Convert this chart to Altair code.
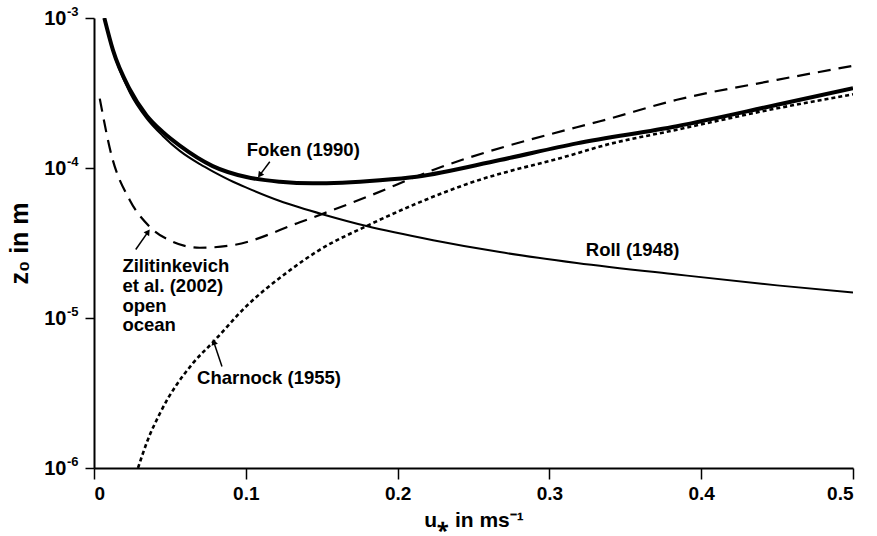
import altair as alt
import pandas as pd

# ---- data ----
foken_u = [0.0068, 0.0125, 0.0235, 0.0345, 0.0455, 0.0565, 0.0782, 0.1004, 0.1224, 0.1441,
           0.1883, 0.2125, 0.2674, 0.318, 0.384, 0.45, 0.5]
foken_z = [1.0e-3, 6.1e-4, 3.35e-4, 2.25e-4, 1.73e-4, 1.41e-4, 1.03e-4, 8.7e-5, 8.1e-5, 7.9e-5,
           8.3e-5, 8.75e-5, 1.13e-4, 1.46e-4, 1.9e-4, 2.64e-4, 3.4e-4]

roll_u = [0.0068, 0.0125, 0.0235, 0.0345, 0.0455, 0.0565, 0.0698, 0.0782, 0.0916, 0.1004, 0.122,
          0.1356, 0.151, 0.1795, 0.2234, 0.2674, 0.318, 0.384, 0.45, 0.5]
roll_z = [1.0e-3, 6.0e-4, 3.2e-4, 2.15e-4, 1.63e-4, 1.3e-4, 1.06e-4, 9.5e-5, 8.1e-5, 7.4e-5, 6.05e-5,
          5.45e-5, 4.9e-5, 4.1e-5, 3.3e-5, 2.75e-5, 2.33e-5, 1.95e-5, 1.65e-5, 1.48e-5]

zili_u = [0.0038, 0.0115, 0.0236, 0.0367, 0.052, 0.0697, 0.0916, 0.1356, 0.1795, 0.2234,
          0.318, 0.3333, 0.384, 0.45, 0.5]
zili_z = [2.9e-4, 1.22e-4, 6.1e-5, 4.06e-5, 3.22e-5, 2.94e-5, 3.06e-5, 4.35e-5, 6.4e-5, 9.7e-5,
          1.87e-4, 2.05e-4, 2.85e-4, 3.87e-4, 4.8e-4]

char_u = [0.029, 0.035, 0.0433, 0.0652, 0.0784, 0.1004, 0.1268, 0.1487, 0.1795, 0.2454,
          0.318, 0.3333, 0.384, 0.45, 0.5]
char_z = [1.0e-6, 1.5e-6, 2.3e-6, 5.0e-6, 6.9e-6, 1.2e-5, 2.0e-5, 2.85e-5, 4.1e-5, 7.8e-5,
          1.25e-4, 1.39e-4, 1.8e-4, 2.5e-4, 3.1e-4]

series_names = ["Foken", "Roll", "Zilitinkevich", "Charnock"]

label_text = ["Foken (1990)", "Roll (1948)", "Zilitinkevich", "et al. (2002)", "open", "ocean",
              "Charnock (1955)"]
label_u = [0.1006, 0.3548, 0.0187, 0.0187, 0.0187, 0.0187, 0.0679]
label_z = [1.32e-4, 2.86e-5, 2.21e-5, 1.64e-5, 1.21e-5, 8.97e-6, 4.0e-6]
label_align = ["left", "center", "left", "left", "left", "left", "left"]

arrow_u_tail = [0.1158, 0.0275, 0.0843]
arrow_z_tail = [1.10e-4, 2.86e-5, 4.75e-6]
arrow_u_head = [0.1092, 0.0356, 0.0789]
arrow_z_head = [8.97e-5, 3.75e-5, 6.92e-6]
arrow_angle = [217, 35, 341]

x_ticks = [0, 0.1, 0.2, 0.3, 0.4, 0.5]
y_ticks = [1e-6, 1e-5, 1e-4, 1e-3]
y_exponents = ["-6", "-5", "-4", "-3"]

FONT = "Liberation Sans"

def frame(us, zs, name):
    return pd.DataFrame({"u": us, "z": zs, "series": name})

x_scale = alt.Scale(domain=[0, 0.5], nice=False, zero=False)
y_scale = alt.Scale(type="log", domain=[1e-6, 1e-3], nice=False)

x_axis = alt.Axis(values=x_ticks, title="u⁎ in ms⁻¹", grid=False,
                  labelExpr="datum.value == 0 ? '0' : format(datum.value, '.1f')",
                  labelFont=FONT, labelFontSize=19, labelFontWeight="bold", labelColor="black",
                  labelPadding=5, tickSize=11, tickWidth=1.5, tickColor="black",
                  domainColor="black", domainWidth=2,
                  titleFont=FONT, titleFontSize=21, titleFontWeight="bold", titleColor="black",
                  titlePadding=6)
y_axis = alt.Axis(values=y_ticks, title="z₀ in m", grid=False,
                  labelExpr="'10'",
                  labelFont=FONT, labelFontSize=20, labelFontWeight="bold", labelColor="black",
                  labelPadding=19, labelBaseline="middle", tickSize=9, tickWidth=1.5, tickColor="black",
                  domainColor="black", domainWidth=2,
                  titleFont=FONT, titleFontSize=25, titleFontWeight="bold", titleColor="black",
                  titlePadding=11)

def line(df, width, dash=None):
    kw = dict(color="black", strokeWidth=width, clip=True, interpolate="monotone")
    if dash:
        kw["strokeDash"] = dash
    return alt.Chart(df).mark_line(**kw).encode(
        x=alt.X("u:Q", scale=x_scale, axis=x_axis),
        y=alt.Y("z:Q", scale=y_scale, axis=y_axis),
    )

foken = line(frame(foken_u, foken_z, series_names[0]), 4)
roll = line(frame(roll_u, roll_z, series_names[1]), 2)
zili = line(frame(zili_u, zili_z, series_names[2]), 2.2, [13, 8])
char = line(frame(char_u, char_z, series_names[3]), 2.6, [4, 3])

labels_df = pd.DataFrame({"text": label_text, "u": label_u, "z": label_z, "align": label_align})
texts = []
for al in ["left", "center"]:
    texts.append(alt.Chart(labels_df[labels_df["align"] == al]).mark_text(
        font=FONT, fontSize=18.5, fontWeight="bold", color="black", align=al, baseline="middle"
    ).encode(x=alt.X("u:Q", scale=x_scale), y=alt.Y("z:Q", scale=y_scale), text="text:N"))

exp_df = pd.DataFrame({"z": y_ticks, "e": y_exponents})
exps = alt.Chart(exp_df).mark_text(
    font=FONT, fontSize=13, fontWeight="bold", color="black", align="left", baseline="middle",
    dx=-27, dy=-6, clip=False
).encode(x=alt.value(0), y=alt.Y("z:Q", scale=y_scale), text="e:N")

arrows_df = pd.DataFrame({"u": arrow_u_tail, "z": arrow_z_tail, "u2": arrow_u_head,
                          "z2": arrow_z_head, "angle": arrow_angle})
arrow_lines = alt.Chart(arrows_df).mark_rule(color="black", strokeWidth=1.5).encode(
    x=alt.X("u:Q", scale=x_scale), y=alt.Y("z:Q", scale=y_scale), x2="u2:Q", y2="z2:Q")
arrow_heads = alt.Chart(arrows_df).mark_point(
    shape="triangle-up", filled=True, color="black", size=45, opacity=1
).encode(x=alt.X("u2:Q", scale=x_scale), y=alt.Y("z2:Q", scale=y_scale),
         angle=alt.Angle("angle:Q", scale=None))

chart = alt.layer(foken, roll, zili, char, arrow_lines, arrow_heads, exps, *texts).properties(
    width=759, height=450,
    autosize=alt.AutoSizeParams(type="none"),
    padding={"left": 94, "top": 18, "right": 24, "bottom": 68},
    background="white",
).configure_view(stroke=None)

chart.save("out.html", embed_options={"renderer": "svg", "actions": False})
